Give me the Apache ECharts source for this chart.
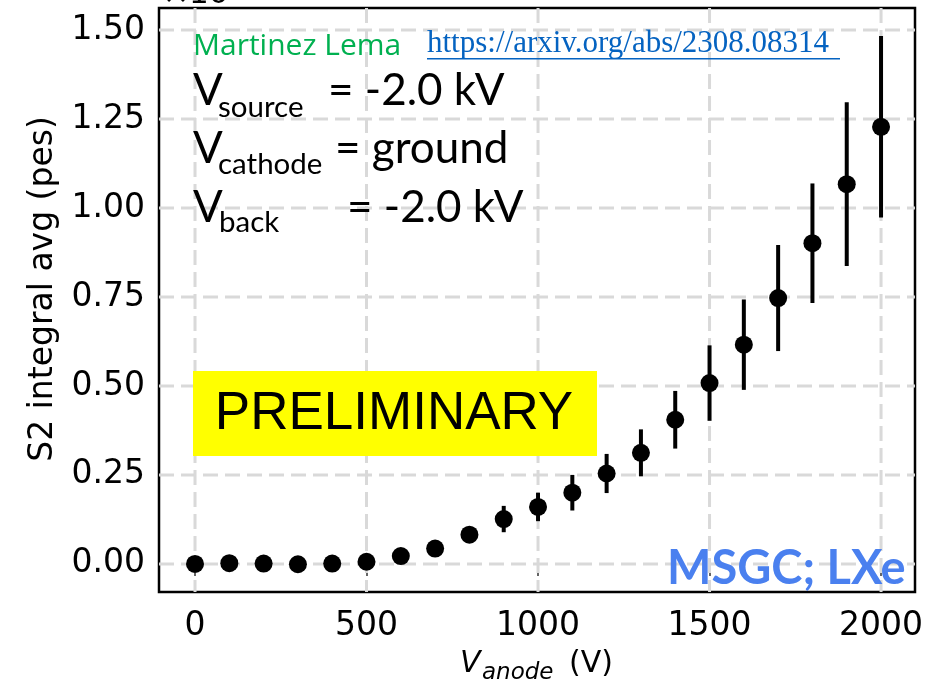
<!DOCTYPE html>
<html>
<head>
<meta charset="utf-8">
<script src="https://cdn.jsdelivr.net/npm/echarts@6/dist/echarts.min.js"></script>
<style>
  html, body { margin: 0; padding: 0; background: #fff; }
  #chart { width: 947px; height: 685px; }
</style>
</head>
<body>
<div id="chart"></div>
<script>
// Anode voltage scan (V)
const anodeVoltage = [0, 100, 200, 300, 400, 500, 600, 700, 800, 900, 1000,
                      1100, 1200, 1300, 1400, 1500, 1600, 1700, 1800, 1900, 2000];
// Mean S2 integral (pes, in units of the axis offset)
const s2Mean = [0.000, 0.002, 0.001, -0.001, 0.001, 0.006, 0.022, 0.043, 0.082, 0.126, 0.160,
                0.200, 0.254, 0.312, 0.405, 0.508, 0.616, 0.747, 0.901, 1.067, 1.228];
// Symmetric uncertainty on each mean
const s2Err = [0.003, 0.003, 0.003, 0.003, 0.003, 0.004, 0.006, 0.010, 0.018, 0.037, 0.040,
               0.050, 0.055, 0.066, 0.081, 0.106, 0.127, 0.149, 0.168, 0.230, 0.255];
// Axis tick values
const xTicks = [0, 500, 1000, 1500, 2000];
const yTicks = [0, 0.25, 0.5, 0.75, 1.0, 1.25, 1.5];

const chart = echarts.init(document.getElementById('chart'), null, { renderer: 'canvas' });

const points = anodeVoltage.map((v, i) => [v, s2Mean[i], s2Err[i]]);
const gridStyle = { stroke: '#d9d9d9', lineWidth: 3, lineDash: [15, 7] };

function txt(x, baseline, str, family, size, color, extra) {
  return {
    type: 'text', z: 100, x: x, y: baseline - 0.36 * size,
    style: Object.assign({
      text: str, fontFamily: family, fontSize: size, fill: color,
      align: 'left', verticalAlign: 'middle'
    }, extra || {})
  };
}

// dashed grid line across the plotting area
function gridLineItem(horizontal) {
  return function (params, api) {
    const cs = params.coordSys;
    const v = api.value(0);
    let shape;
    if (horizontal) {
      const p = api.coord([0, v]);
      shape = { x1: cs.x, y1: p[1], x2: cs.x + cs.width, y2: p[1] };
    } else {
      const p = api.coord([v, 0]);
      shape = { x1: p[0], y1: cs.y, x2: p[0], y2: cs.y + cs.height };
    }
    return { type: 'line', shape: shape, style: gridStyle, silent: true };
  };
}

const calib = 'Lato, "Open Sans", sans-serif';

chart.setOption({
  animation: false,
  backgroundColor: '#ffffff',
  grid: { left: 159, right: 32, top: 8, bottom: 93, show: true,
          borderColor: '#000', borderWidth: 2.5, backgroundColor: 'transparent' },
  xAxis: {
    type: 'value', min: -105, max: 2099,
    axisLine: { show: false },
    splitLine: { show: false },
    axisTick: { show: true, inside: false, length: 12, customValues: xTicks,
                lineStyle: { color: '#333', width: 1.5 } },
    axisLabel: { customValues: xTicks, margin: 18, color: '#000',
                 fontFamily: 'DejaVu Sans', fontSize: 33,
                 formatter: v => String(v) }
  },
  yAxis: {
    type: 'value', min: -0.079, max: 1.562,
    axisLine: { show: false },
    splitLine: { show: false },
    axisTick: { show: true, inside: false, length: 12, customValues: yTicks,
                lineStyle: { color: '#333', width: 1.5 } },
    axisLabel: { customValues: yTicks, margin: 14, color: '#000',
                 fontFamily: 'DejaVu Sans', fontSize: 33,
                 formatter: v => v.toFixed(2) }
  },
  series: [
    {
      type: 'custom', z: 1, silent: true,
      data: yTicks.map(v => [v]),
      encode: { y: 0 },
      renderItem: gridLineItem(true)
    },
    {
      type: 'custom', z: 1, silent: true,
      data: xTicks.map(v => [v]),
      encode: { x: 0 },
      renderItem: gridLineItem(false)
    },
    {
      // error bars
      type: 'custom', z: 3, silent: true,
      data: points,
      encode: { x: 0, y: 1 },
      renderItem: function (params, api) {
        const x = api.value(0), y = api.value(1), e = api.value(2);
        const lo = api.coord([x, y - e]);
        const hi = api.coord([x, y + e]);
        return {
          type: 'line',
          shape: { x1: lo[0], y1: lo[1], x2: hi[0], y2: hi[1] },
          style: { stroke: '#000', lineWidth: 4 }
        };
      }
    },
    {
      type: 'scatter', z: 4, silent: true,
      data: points.map(p => [p[0], p[1]]),
      symbol: 'circle', symbolSize: 18,
      itemStyle: { color: '#000', opacity: 1 }
    }
  ],
  graphic: [
    // axis offset text, clipped at the top edge
    txt(163, 6, '×10', 'DejaVu Sans', 31, '#000'),
    // y axis title
    { type: 'text', z: 100, x: 43, y: 289, rotation: Math.PI / 2,
      style: { text: 'S2 integral avg (pes)', fontFamily: 'DejaVu Sans', fontSize: 33,
               fill: '#000', align: 'center', verticalAlign: 'middle' } },
    // x axis title
    txt(460, 675, 'V', 'DejaVu Sans', 30, '#000', { fontStyle: 'italic' }),
    txt(482, 681, 'anode', 'DejaVu Sans', 23, '#000', { fontStyle: 'italic' }),
    txt(569, 675, '(V)', 'DejaVu Sans', 30, '#000'),
    // author and reference
    txt(193, 57, 'Martinez Lema', '"Open Sans", sans-serif', 30, '#00b050'),
    txt(427, 55, 'https://arxiv.org/abs/2308.08314', '"Liberation Serif", serif', 31, '#0563c1'),
    { type: 'rect', z: 100, shape: { x: 427, y: 58, width: 413, height: 1.6 },
      style: { fill: '#0563c1' } },
    // electrode settings
    txt(193, 107, 'V', calib, 44, '#000'),
    txt(218, 118, 'source', calib, 29.5, '#000'),
    txt(328, 107, '= -2.0 kV', calib, 44, '#000'),
    txt(193, 165, 'V', calib, 44, '#000'),
    txt(218, 175, 'cathode', calib, 29.5, '#000'),
    txt(335, 165, '= ground', calib, 44, '#000'),
    txt(193, 224, 'V', calib, 44, '#000'),
    txt(219, 233, 'back', calib, 29.5, '#000'),
    txt(347, 224, '= -2.0 kV', calib, 44, '#000'),
    // preliminary banner
    { type: 'rect', z: 100, shape: { x: 193, y: 371, width: 404, height: 85 },
      style: { fill: '#ffff00' } },
    { type: 'text', z: 101, x: 394, y: 414,
      style: { text: 'PRELIMINARY', fontFamily: '"Liberation Sans", Arial, sans-serif',
               fontSize: 53, fill: '#000', align: 'center', verticalAlign: 'middle' } },
    // detector tag
    txt(667, 586, 'MSGC; LXe', calib, 47, '#4a80ef', { fontWeight: 'bold' })
  ]
});
</script>
</body>
</html>
